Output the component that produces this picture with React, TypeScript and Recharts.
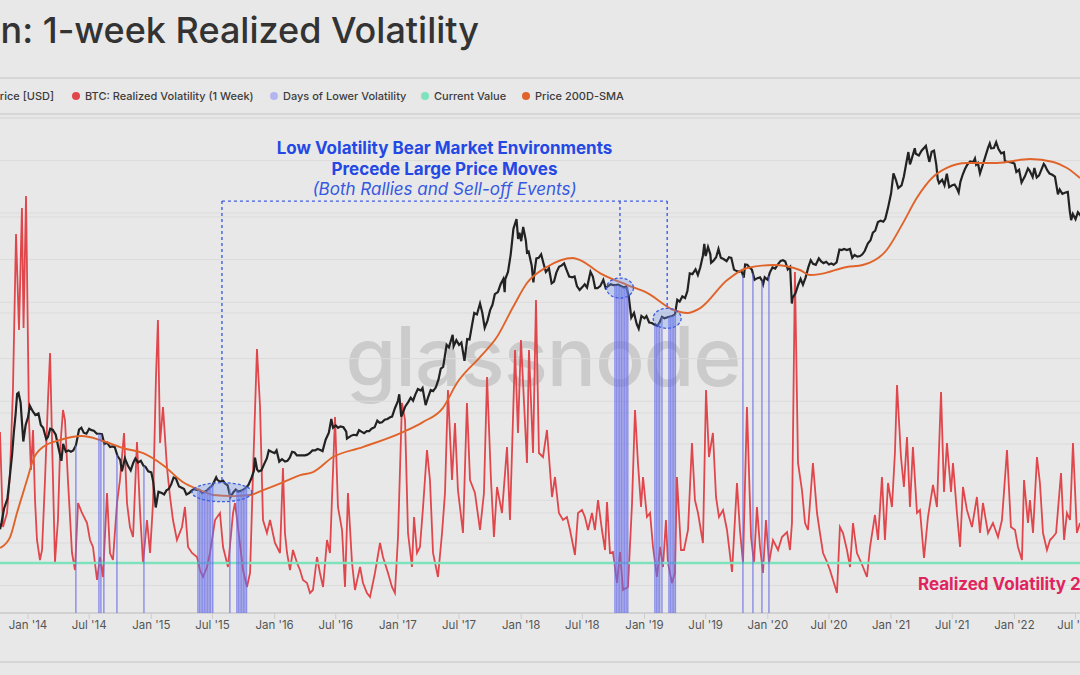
import React from 'react';
import {
  ComposedChart,
  Line,
  Bar,
  XAxis,
  YAxis,
  CartesianGrid,
  ReferenceLine,
  ReferenceDot,
} from 'recharts';

// time axis is in decimal years
const X_DOMAIN: [number, number] = [2013.773, 2022.532];
const PRICE_DOMAIN: [number, number] = [32, 100000];
const VOL_DOMAIN: [number, number] = [0, 247.5];

const TICK_VALUES = [
  2014, 2014.496, 2015, 2015.496, 2016, 2016.496, 2017, 2017.496, 2018, 2018.496,
  2019, 2019.496, 2020, 2020.496, 2021, 2021.496, 2022, 2022.496,
];
const TICK_LABELS = [
  "Jan '14", "Jul '14", "Jan '15", "Jul '15", "Jan '16", "Jul '16", "Jan '17", "Jul '17", "Jan '18", "Jul '18",
  "Jan '19", "Jul '19", "Jan '20", "Jul '20", "Jan '21", "Jul '21", "Jan '22", "Jul '22",
];
const PRICE_GRID = [50, 100, 200, 500, 1000, 2000, 5000, 10000, 20000, 50000];
const VOL_GRID = [50, 100, 150, 200];

// BTC price [USD]
const PRICE: [number, number][] = [
  [2013.773, 125], [2013.786, 140], [2013.806, 175], [2013.833, 205], [2013.852, 290], [2013.871, 420],
  [2013.885, 600], [2013.899, 800], [2013.912, 1130], [2013.923, 1150], [2013.94, 980], [2013.962, 520],
  [2013.981, 680], [2014.0, 770], [2014.015, 930], [2014.038, 850], [2014.06, 800], [2014.085, 820],
  [2014.104, 680], [2014.123, 650], [2014.148, 540], [2014.162, 560], [2014.18, 640], [2014.2, 630],
  [2014.225, 580], [2014.247, 470], [2014.271, 380], [2014.285, 500], [2014.307, 440], [2014.329, 450],
  [2014.348, 440], [2014.367, 450], [2014.389, 490], [2014.414, 630], [2014.433, 650], [2014.452, 600],
  [2014.474, 590], [2014.496, 640], [2014.515, 625], [2014.534, 620], [2014.558, 590], [2014.581, 590],
  [2014.6, 585], [2014.619, 500], [2014.641, 510], [2014.666, 475], [2014.685, 480], [2014.704, 475],
  [2014.726, 410], [2014.748, 385], [2014.762, 320], [2014.786, 395], [2014.811, 350], [2014.833, 325],
  [2014.855, 370], [2014.871, 395], [2014.893, 370], [2014.915, 380], [2014.937, 350], [2014.953, 345],
  [2014.975, 320], [2015.0, 315], [2015.016, 270], [2015.036, 178], [2015.058, 230], [2015.085, 225],
  [2015.104, 220], [2015.123, 235], [2015.142, 240], [2015.162, 260], [2015.181, 290], [2015.2, 285],
  [2015.225, 250], [2015.247, 245], [2015.266, 240], [2015.285, 220], [2015.307, 225], [2015.329, 235],
  [2015.348, 240], [2015.367, 237], [2015.389, 237], [2015.414, 225], [2015.433, 230], [2015.452, 235],
  [2015.474, 245], [2015.496, 255], [2015.526, 290], [2015.534, 280], [2015.558, 270], [2015.581, 275],
  [2015.6, 262], [2015.619, 255], [2015.641, 210], [2015.666, 228], [2015.685, 238], [2015.704, 230],
  [2015.726, 233], [2015.748, 238], [2015.767, 245], [2015.786, 255], [2015.811, 285], [2015.833, 325],
  [2015.841, 400], [2015.858, 330], [2015.871, 320], [2015.893, 325], [2015.915, 360], [2015.937, 395],
  [2015.953, 450], [2015.975, 440], [2016.0, 430], [2016.016, 450], [2016.038, 375], [2016.06, 390],
  [2016.085, 375], [2016.104, 380], [2016.123, 400], [2016.142, 440], [2016.162, 435], [2016.181, 415],
  [2016.2, 415], [2016.225, 415], [2016.247, 415], [2016.266, 420], [2016.285, 430], [2016.307, 450],
  [2016.329, 450], [2016.348, 460], [2016.367, 455], [2016.389, 445], [2016.414, 535], [2016.44, 600],
  [2016.46, 750], [2016.474, 650], [2016.496, 675], [2016.515, 650], [2016.534, 665], [2016.558, 655],
  [2016.581, 610], [2016.587, 545], [2016.619, 570], [2016.641, 580], [2016.666, 575], [2016.685, 625],
  [2016.704, 610], [2016.726, 595], [2016.748, 615], [2016.767, 615], [2016.786, 640], [2016.811, 655],
  [2016.833, 730], [2016.852, 705], [2016.871, 710], [2016.893, 740], [2016.915, 750], [2016.937, 770],
  [2016.953, 780], [2016.975, 890], [2017.0, 1000], [2017.011, 1120], [2017.027, 780], [2017.038, 820],
  [2017.06, 920], [2017.085, 990], [2017.104, 1060], [2017.123, 1010], [2017.142, 1120], [2017.162, 1220],
  [2017.186, 1190], [2017.2, 1240], [2017.225, 940], [2017.247, 1080], [2017.266, 1200], [2017.285, 1180],
  [2017.307, 1250], [2017.329, 1420], [2017.348, 1700], [2017.367, 1750], [2017.395, 2500], [2017.414, 2400],
  [2017.444, 2950], [2017.452, 2450], [2017.474, 2700], [2017.496, 2500], [2017.515, 2600], [2017.54, 1930],
  [2017.562, 2750], [2017.581, 2730], [2017.6, 3400], [2017.619, 4200], [2017.641, 4100], [2017.666, 4900],
  [2017.685, 4200], [2017.704, 3300], [2017.726, 3700], [2017.748, 4400], [2017.767, 4800], [2017.786, 5700],
  [2017.811, 5900], [2017.833, 6700], [2017.855, 7300], [2017.866, 5900], [2017.871, 7300], [2017.893, 8200],
  [2017.915, 10900], [2017.937, 16500], [2017.962, 19300], [2017.975, 14000], [2017.986, 15500], [2018.0, 13500],
  [2018.016, 17000], [2018.038, 13600], [2018.047, 11200], [2018.06, 11400], [2018.085, 9100], [2018.099, 6900],
  [2018.11, 8500], [2018.123, 10200], [2018.142, 10300], [2018.162, 10900], [2018.181, 9400], [2018.2, 8200],
  [2018.225, 8700], [2018.247, 6800], [2018.266, 7000], [2018.285, 8100], [2018.307, 8900], [2018.329, 9100],
  [2018.348, 9400], [2018.367, 8500], [2018.389, 7600], [2018.414, 7500], [2018.433, 7600], [2018.452, 6500],
  [2018.474, 6100], [2018.496, 6400], [2018.515, 6700], [2018.534, 6350], [2018.562, 8200], [2018.581, 7600],
  [2018.6, 6300], [2018.619, 6300], [2018.641, 6500], [2018.666, 7200], [2018.685, 6300], [2018.704, 6500],
  [2018.726, 6700], [2018.748, 6600], [2018.767, 6600], [2018.786, 6650], [2018.811, 6500], [2018.833, 6350],
  [2018.852, 6450], [2018.868, 5700], [2018.871, 5600], [2018.893, 3900], [2018.915, 4200], [2018.937, 3500],
  [2018.953, 3250], [2018.975, 4000], [2019.0, 3850], [2019.016, 4000], [2019.038, 3600], [2019.06, 3570],
  [2019.085, 3450], [2019.104, 3400], [2019.123, 3600], [2019.142, 3950], [2019.162, 3850], [2019.181, 3900],
  [2019.2, 3950], [2019.225, 4000], [2019.247, 4100], [2019.266, 5200], [2019.285, 5050], [2019.307, 5500],
  [2019.329, 5350], [2019.348, 6000], [2019.367, 8000], [2019.389, 7900], [2019.414, 8550], [2019.433, 7800],
  [2019.452, 8800], [2019.474, 10700], [2019.485, 12900], [2019.496, 10600], [2019.515, 12300], [2019.534, 10900],
  [2019.54, 9500], [2019.558, 9800], [2019.581, 10400], [2019.6, 11900], [2019.619, 10300], [2019.641, 10100],
  [2019.666, 9750], [2019.685, 10400], [2019.704, 10300], [2019.726, 8500], [2019.748, 8300], [2019.767, 8200],
  [2019.786, 8350], [2019.805, 7450], [2019.816, 9250], [2019.833, 9200], [2019.852, 8800], [2019.871, 8500],
  [2019.893, 7200], [2019.915, 7400], [2019.937, 7500], [2019.953, 7100], [2019.962, 6700], [2019.975, 7500],
  [2020.0, 7200], [2020.016, 8100], [2020.038, 8800], [2020.06, 8650], [2020.085, 9350], [2020.104, 9800],
  [2020.123, 9900], [2020.142, 9700], [2020.162, 8550], [2020.181, 8900], [2020.195, 4900], [2020.2, 5350],
  [2020.225, 5800], [2020.247, 6650], [2020.266, 7300], [2020.285, 6650], [2020.307, 7500], [2020.329, 8850],
  [2020.348, 9900], [2020.367, 9350], [2020.389, 9200], [2020.414, 10200], [2020.433, 9700], [2020.452, 9450],
  [2020.474, 9650], [2020.496, 9250], [2020.515, 9400], [2020.534, 9200], [2020.558, 9550], [2020.581, 11800],
  [2020.6, 11700], [2020.619, 11900], [2020.641, 11700], [2020.666, 11900], [2020.685, 10300], [2020.704, 10800],
  [2020.726, 10500], [2020.748, 10600], [2020.767, 10900], [2020.786, 11500], [2020.811, 13000], [2020.833, 13700],
  [2020.852, 15500], [2020.871, 16000], [2020.893, 18400], [2020.915, 18800], [2020.937, 18500], [2020.953, 19400],
  [2020.975, 23200], [2021.0, 29400], [2021.019, 40600], [2021.038, 36800], [2021.058, 32000], [2021.085, 33500],
  [2021.104, 38800], [2021.123, 47900], [2021.14, 57500], [2021.153, 47000], [2021.162, 49600], [2021.192, 61200],
  [2021.2, 55900], [2021.225, 54300], [2021.247, 58800], [2021.282, 63500], [2021.31, 49000], [2021.329, 57800],
  [2021.348, 58800], [2021.367, 46500], [2021.378, 37000], [2021.389, 34700], [2021.414, 36700], [2021.433, 33500],
  [2021.452, 40500], [2021.471, 32500], [2021.496, 33500], [2021.515, 33900], [2021.534, 31800], [2021.548, 29800],
  [2021.562, 35400], [2021.581, 39900], [2021.6, 43800], [2021.619, 47000], [2021.641, 49300], [2021.666, 48800],
  [2021.68, 51800], [2021.69, 46800], [2021.704, 48100], [2021.721, 40600], [2021.748, 48100], [2021.786, 61500],
  [2021.8, 66000], [2021.811, 61000], [2021.833, 61300], [2021.852, 67500], [2021.871, 60400], [2021.893, 56300],
  [2021.915, 57200], [2021.923, 49400], [2021.953, 48900], [2021.975, 48600], [2022.0, 47700], [2022.016, 41600],
  [2022.038, 43100], [2022.058, 35000], [2022.085, 38700], [2022.11, 44000], [2022.123, 42500], [2022.148, 38300],
  [2022.162, 44400], [2022.181, 38000], [2022.2, 39300], [2022.238, 47400], [2022.247, 46300], [2022.266, 42800],
  [2022.285, 40500], [2022.307, 39700], [2022.329, 38500], [2022.353, 28900], [2022.367, 31300], [2022.389, 29100],
  [2022.414, 29800], [2022.433, 30100], [2022.449, 22100], [2022.46, 19000], [2022.474, 21000], [2022.496, 19300],
  [2022.515, 21600], [2022.534, 20600], [2022.56, 22600],
];

// Price 200D-SMA
const SMA_200D: [number, number][] = [
  [2013.773, 92], [2013.855, 110], [2013.91, 162], [2013.992, 278], [2014.041, 385], [2014.121, 475],
  [2014.26, 533], [2014.438, 568], [2014.584, 533], [2014.77, 467], [2014.934, 430], [2015.096, 354],
  [2015.258, 268], [2015.395, 236], [2015.503, 218], [2015.663, 214], [2015.801, 218], [2015.907, 236],
  [2016.068, 268], [2016.208, 301], [2016.312, 316], [2016.474, 404], [2016.715, 475], [2017.041, 606],
  [2017.203, 713], [2017.364, 895], [2017.479, 1345], [2017.666, 2053], [2017.803, 2840], [2017.934, 4625],
  [2018.047, 6835], [2018.208, 8870], [2018.419, 10260], [2018.477, 9930], [2018.638, 8040], [2018.86, 6620],
  [2019.025, 5810], [2019.236, 4410], [2019.347, 4200], [2019.452, 4550], [2019.671, 7180], [2019.833, 8730],
  [2020.044, 9160], [2020.26, 8450], [2020.342, 7790], [2020.422, 7900], [2020.641, 8870], [2020.77, 9160],
  [2020.964, 11700], [2021.096, 18100], [2021.208, 27200], [2021.34, 38300], [2021.452, 44400], [2021.614, 48100],
  [2021.858, 48100], [2022.126, 51300], [2022.315, 48900], [2022.427, 44400], [2022.532, 37700],
];

// BTC: Realized Volatility (1 Week), %
const REALIZED_VOL: [number, number][] = [
  [2013.773, 90.5], [2013.797, 43], [2013.83, 50], [2013.854, 70], [2013.878, 111.5], [2013.903, 189.5],
  [2013.927, 141.5], [2013.951, 202.5], [2013.964, 142.5], [2013.984, 208.5], [2014.008, 96.5], [2014.024, 71.5],
  [2014.041, 91.5], [2014.057, 56.5], [2014.073, 36.5], [2014.097, 26.5], [2014.114, 31.5], [2014.138, 66.5],
  [2014.162, 106.5], [2014.179, 130], [2014.195, 86.5], [2014.219, 25.5], [2014.243, 46.5], [2014.26, 81.5],
  [2014.284, 101.5], [2014.3, 96.5], [2014.324, 66.5], [2014.357, 30], [2014.381, 21.5], [2014.406, 55],
  [2014.438, 50], [2014.479, 45], [2014.503, 36.5], [2014.527, 33], [2014.56, 16.5], [2014.584, 28],
  [2014.608, 18], [2014.641, 60], [2014.665, 30], [2014.689, 26.5], [2014.722, 55], [2014.746, 66.5],
  [2014.779, 90], [2014.803, 55], [2014.827, 43], [2014.852, 38], [2014.884, 85.5], [2014.908, 51.5],
  [2014.933, 25], [2014.965, 46.5], [2014.99, 30], [2015.014, 55], [2015.038, 118], [2015.054, 146.5],
  [2015.071, 85], [2015.095, 103], [2015.127, 73], [2015.152, 58], [2015.176, 46.5], [2015.208, 36.5],
  [2015.249, 43], [2015.273, 53], [2015.298, 33], [2015.33, 30], [2015.371, 28], [2015.395, 21.5],
  [2015.419, 18], [2015.452, 23], [2015.476, 30], [2015.517, 46.5], [2015.557, 50], [2015.582, 33],
  [2015.622, 23], [2015.663, 50], [2015.679, 55], [2015.703, 43], [2015.744, 21.5], [2015.776, 13],
  [2015.801, 20], [2015.825, 70], [2015.857, 132], [2015.882, 103], [2015.906, 46.5], [2015.938, 40],
  [2015.963, 46.5], [2016.003, 35], [2016.044, 30], [2016.068, 72.5], [2016.084, 40], [2016.101, 30],
  [2016.125, 21.5], [2016.149, 31.5], [2016.182, 25], [2016.206, 21.5], [2016.23, 16.5], [2016.263, 15],
  [2016.287, 10], [2016.311, 11.5], [2016.344, 28], [2016.368, 20], [2016.393, 13], [2016.425, 36.5],
  [2016.449, 30], [2016.466, 58], [2016.49, 98], [2016.514, 53], [2016.547, 41.5], [2016.571, 13],
  [2016.595, 60], [2016.628, 25], [2016.652, 11.5], [2016.693, 23], [2016.717, 15], [2016.749, 10],
  [2016.774, 8], [2016.814, 20], [2016.855, 35], [2016.879, 28], [2016.92, 20], [2016.952, 13],
  [2016.976, 10], [2017.001, 38], [2017.033, 105], [2017.058, 96.5], [2017.082, 40], [2017.114, 23],
  [2017.131, 48], [2017.155, 30], [2017.179, 33], [2017.204, 53], [2017.236, 81.5], [2017.26, 66.5],
  [2017.285, 30], [2017.325, 18], [2017.358, 40], [2017.382, 60], [2017.406, 111.5], [2017.439, 66.5],
  [2017.463, 95], [2017.487, 61.5], [2017.528, 40], [2017.56, 105], [2017.585, 66.5], [2017.625, 60],
  [2017.666, 41.5], [2017.698, 60], [2017.723, 118], [2017.755, 66.5], [2017.779, 38], [2017.804, 63],
  [2017.844, 50], [2017.885, 83], [2017.909, 46.5], [2017.95, 131.5], [2017.974, 90], [2017.998, 136.5],
  [2018.047, 75], [2018.063, 131.5], [2018.096, 80], [2018.12, 156.5], [2018.144, 80], [2018.177, 78],
  [2018.209, 91.5], [2018.25, 58], [2018.274, 68], [2018.306, 50], [2018.339, 46.5], [2018.371, 48],
  [2018.396, 41.5], [2018.436, 29], [2018.461, 50], [2018.493, 51.5], [2018.517, 48], [2018.542, 41.5],
  [2018.574, 50], [2018.598, 41.5], [2018.623, 56.5], [2018.655, 41.5], [2018.68, 31.5], [2018.696, 55.5],
  [2018.72, 30], [2018.744, 30.5], [2018.777, 15], [2018.801, 30.5], [2018.826, 11.5], [2018.866, 13],
  [2018.899, 55], [2018.923, 101.5], [2018.947, 75], [2018.972, 53], [2018.988, 68], [2019.02, 48],
  [2019.045, 50], [2019.069, 33], [2019.101, 18], [2019.126, 33], [2019.15, 23], [2019.174, 46.5],
  [2019.19, 25], [2019.223, 15], [2019.247, 20], [2019.263, 68], [2019.296, 31.5], [2019.32, 31.5],
  [2019.353, 41.5], [2019.385, 85], [2019.409, 56.5], [2019.434, 50], [2019.474, 35], [2019.499, 111.5],
  [2019.523, 78], [2019.555, 90], [2019.58, 58], [2019.604, 48], [2019.637, 51.5], [2019.669, 41.5],
  [2019.71, 20.5], [2019.75, 65], [2019.774, 41.5], [2019.799, 25], [2019.831, 103], [2019.864, 38],
  [2019.888, 25], [2019.912, 53], [2019.937, 33], [2019.961, 20], [2019.985, 46.5], [2020.01, 25],
  [2020.042, 36.5], [2020.083, 31.5], [2020.115, 38], [2020.156, 40.5], [2020.18, 31.5], [2020.196, 45],
  [2020.22, 170.5], [2020.245, 75], [2020.277, 61.5], [2020.302, 45], [2020.326, 41.5], [2020.35, 61.5],
  [2020.366, 75], [2020.399, 50], [2020.423, 40], [2020.448, 30], [2020.48, 25.5], [2020.504, 21.5],
  [2020.529, 16.5], [2020.561, 10], [2020.585, 43], [2020.61, 40], [2020.642, 31.5], [2020.667, 23],
  [2020.691, 45], [2020.723, 30], [2020.748, 26.5], [2020.772, 23], [2020.804, 18], [2020.829, 33],
  [2020.869, 49], [2020.894, 36.5], [2020.926, 68], [2020.95, 36.5], [2020.975, 65], [2021.007, 53],
  [2021.031, 80], [2021.048, 114], [2021.08, 78], [2021.104, 63], [2021.129, 88], [2021.153, 53],
  [2021.177, 83], [2021.21, 50], [2021.234, 51.5], [2021.267, 27.5], [2021.299, 48], [2021.34, 64],
  [2021.372, 53], [2021.405, 110.5], [2021.429, 60.5], [2021.453, 85], [2021.486, 60.5], [2021.502, 75],
  [2021.534, 50], [2021.559, 33], [2021.583, 63], [2021.615, 51.5], [2021.656, 43], [2021.696, 58],
  [2021.721, 40], [2021.745, 55], [2021.786, 40], [2021.826, 45], [2021.867, 38], [2021.899, 46.5],
  [2021.94, 81.5], [2021.972, 43], [2022.005, 41.5], [2022.029, 33], [2022.061, 26.5], [2022.078, 66.5],
  [2022.11, 45], [2022.126, 56.5], [2022.151, 40], [2022.183, 78], [2022.207, 65], [2022.232, 40],
  [2022.264, 31.5], [2022.289, 36.5], [2022.313, 38], [2022.338, 40], [2022.378, 70], [2022.403, 36.5],
  [2022.426, 50], [2022.451, 46.5], [2022.475, 85], [2022.507, 40], [2022.532, 45],
];

// Days of Lower Volatility (bar reaches the price that day)
const LOW_VOL_DAYS: [number, number][] = [
  [2014.389, 490], [2014.576, 590], [2014.592, 588], [2014.616, 510], [2014.722, 420], [2014.941, 350],
  [2015.379, 237], [2015.392, 236], [2015.405, 230], [2015.418, 226], [2015.431, 229], [2015.444, 233],
  [2015.457, 238], [2015.47, 245], [2015.483, 252], [2015.499, 256], [2015.638, 240],
  [2015.695, 236], [2015.708, 231], [2015.721, 232], [2015.734, 236], [2015.747, 238], [2015.76, 243],
  [2015.773, 250],
  [2018.761, 6600], [2018.774, 6580], [2018.787, 6620], [2018.8, 6500], [2018.813, 6480], [2018.826, 6400],
  [2018.839, 6350], [2018.852, 6420], [2018.865, 6380],
  [2019.085, 3450], [2019.098, 3420], [2019.111, 3500], [2019.124, 3600], [2019.142, 3900],
  [2019.199, 3950], [2019.212, 3980], [2019.225, 4000], [2019.238, 4050], [2019.251, 4150],
  [2019.799, 7800], [2019.88, 8000], [2019.953, 7100], [2020.01, 7700],
];

const CURRENT_VALUE = 25;

// highlighted low-volatility regimes: [time, price] of each ellipse centre and of its top
const HIGHLIGHT_CENTERS: [number, number][] = [[2015.573, 228], [2018.801, 6300], [2019.184, 3850]];
const HIGHLIGHT_TOPS: [number, number][] = [[2015.573, 267], [2018.801, 7420], [2019.184, 4530]];
const BRACKET_PRICE = 25900;

type Row = { t: number; price?: number; vol?: number; sma?: number };

function buildRows(): Row[] {
  const byT = new Map<number, Row>();
  const put = (list: [number, number][], key: 'price' | 'vol' | 'sma') => {
    list.forEach(([t, v]) => {
      const r = byT.get(t) ?? { t };
      r[key] = v;
      byT.set(t, r);
    });
  };
  put(PRICE, 'price');
  put(REALIZED_VOL, 'vol');
  put(SMA_200D, 'sma');
  return [...byT.values()].sort((a, b) => a.t - b.t);
}

const rows = buildRows();
const lowVolRows = LOW_VOL_DAYS.map(([t, p]) => ({ t, p }));

const FONT = 'Inter, "Noto Sans", sans-serif';
const ELLIPSE_SIZES = [[30, 9.5], [13.5, 10], [14, 10]];

const legendItem = (color: string, label: string) => (
  <span style={{ display: 'flex', alignItems: 'center', whiteSpace: 'nowrap' }}>
    <span style={{ width: 8, height: 8, borderRadius: 4, background: color, marginRight: 5 }} />
    {label}
  </span>
);

export default function App() {
  const legendText: React.CSSProperties = {
    position: 'absolute',
    top: 89,
    fontSize: 11,
    fontWeight: 500,
    color: '#3c3c3c',
    lineHeight: '14px',
  };
  const dashed = { stroke: '#3e5fe0', strokeWidth: 1.4, strokeDasharray: '3 3' };

  return (
    <div
      style={{
        position: 'fixed',
        left: 0,
        top: 0,
        width: 1080,
        height: 675,
        overflow: 'hidden',
        background: '#e8e8e8',
        fontFamily: FONT,
      }}
    >
      <div
        style={{
          position: 'absolute',
          right: 601,
          top: 12,
          fontSize: 36,
          lineHeight: '36px',
          fontWeight: 500,
          color: '#333',
          whiteSpace: 'nowrap',
        }}
      >
        Bitcoin: 1-week Realized Volatility
      </div>
      <div style={{ position: 'absolute', left: 0, top: 77, width: 1080, height: 2, background: '#d6d6d6' }} />
      <div style={{ position: 'absolute', left: 0, top: 113, width: 1080, height: 2, background: '#d6d6d6' }} />
      <div style={{ position: 'absolute', left: 0, top: 661, width: 1080, height: 2, background: '#d6d6d6' }} />

      <div style={{ ...legendText, right: 1080 - 54 }}>{legendItem('#222', 'BTC: Price [USD]')}</div>
      <div style={{ ...legendText, left: 72 }}>{legendItem('#e0474c', 'BTC: Realized Volatility (1 Week)')}</div>
      <div style={{ ...legendText, left: 270 }}>{legendItem('#b3b6ef', 'Days of Lower Volatility')}</div>
      <div style={{ ...legendText, left: 421 }}>{legendItem('#7ee2bd', 'Current Value')}</div>
      <div style={{ ...legendText, left: 522 }}>{legendItem('#e0642a', 'Price 200D-SMA')}</div>

      <div
        style={{
          position: 'absolute',
          left: 3,
          width: 1080,
          top: 316,
          textAlign: 'center',
          fontSize: 82,
          lineHeight: '82px',
          fontWeight: 500,
          letterSpacing: -1,
          color: 'rgba(90, 90, 90, 0.2)',
        }}
      >
        glassnode
      </div>

      <div style={{ position: 'absolute', left: 0, top: 0 }}>
        <ComposedChart width={1080} height={675} data={rows} margin={{ top: 118, right: 0, bottom: 32, left: 0 }}>
          <CartesianGrid yAxisId="price" vertical={false} stroke="#dbdbdb" />
          <CartesianGrid yAxisId="vol" vertical={false} stroke="#dbdbdb" />
          <XAxis
            dataKey="t"
            type="number"
            domain={X_DOMAIN}
            allowDataOverflow
            ticks={TICK_VALUES}
            interval={0}
            tickFormatter={(v: number) => TICK_LABELS[TICK_VALUES.indexOf(v)]}
            tick={{ fill: '#555', fontSize: 11.5, fontFamily: FONT }}
            axisLine={{ stroke: '#cdcdcd', strokeWidth: 1.5 }}
            tickLine={{ stroke: '#cdcdcd' }}
            height={30}
          />
          <YAxis yAxisId="price" scale="log" domain={PRICE_DOMAIN} ticks={PRICE_GRID} allowDataOverflow hide />
          <YAxis yAxisId="vol" orientation="right" domain={VOL_DOMAIN} ticks={VOL_GRID} allowDataOverflow hide />
          <Line
            yAxisId="vol"
            dataKey="vol"
            type="linear"
            stroke="#e0474c"
            strokeWidth={1.8}
            dot={false}
            connectNulls
            isAnimationActive={false}
          />
          <Line
            yAxisId="price"
            dataKey="price"
            type="linear"
            stroke="#222"
            strokeWidth={2.2}
            dot={false}
            connectNulls
            isAnimationActive={false}
          />
          <Line
            yAxisId="price"
            dataKey="sma"
            type="monotone"
            stroke="#e0642a"
            strokeWidth={1.9}
            dot={false}
            connectNulls
            isAnimationActive={false}
          />
          <ReferenceLine yAxisId="vol" y={CURRENT_VALUE} stroke="#7ee2bd" strokeWidth={2.5} />
        </ComposedChart>
      </div>

      <div style={{ position: 'absolute', left: 0, top: 0 }}>
        <ComposedChart
          width={1080}
          height={675}
          data={lowVolRows}
          margin={{ top: 118, right: 0, bottom: 32, left: 0 }}
          barCategoryGap={0}
        >
          <XAxis
            dataKey="t"
            type="number"
            domain={X_DOMAIN}
            allowDataOverflow
            tick={false}
            axisLine={false}
            tickLine={false}
            height={30}
          />
          <YAxis yAxisId="price" scale="log" domain={PRICE_DOMAIN} allowDataOverflow hide />
          <Bar
            yAxisId="price"
            dataKey="p"
            fill="#666ce6"
            fillOpacity={0.72}
            barSize={2}
            isAnimationActive={false}
          />
          <ReferenceLine
            yAxisId="price"
            segment={[
              { x: HIGHLIGHT_TOPS[0][0], y: BRACKET_PRICE },
              { x: HIGHLIGHT_TOPS[2][0], y: BRACKET_PRICE },
            ]}
            {...dashed}
          />
          {HIGHLIGHT_TOPS.map(([t, p]) => (
            <ReferenceLine
              key={'v' + t}
              yAxisId="price"
              segment={[
                { x: t, y: BRACKET_PRICE },
                { x: t, y: p },
              ]}
              {...dashed}
            />
          ))}
          {HIGHLIGHT_CENTERS.map(([t, p], i) => (
            <ReferenceDot
              key={'e' + t}
              yAxisId="price"
              x={t}
              y={p}
              shape={(props: any) => (
                <ellipse
                  cx={props.cx}
                  cy={props.cy}
                  rx={ELLIPSE_SIZES[i][0]}
                  ry={ELLIPSE_SIZES[i][1]}
                  fill="rgba(110, 145, 235, 0.32)"
                  stroke="#3e5fe0"
                  strokeWidth={1.3}
                  strokeDasharray="3 2"
                />
              )}
            />
          ))}
        </ComposedChart>
      </div>

      <div
        style={{
          position: 'absolute',
          left: 0,
          width: 889,
          top: 138,
          textAlign: 'center',
          color: '#2448e3',
          fontSize: 17,
          lineHeight: '20.5px',
          fontWeight: 700,
        }}
      >
        <div>Low Volatility Bear Market Environments</div>
        <div>Precede Large Price Moves</div>
        <div style={{ fontStyle: 'italic', fontWeight: 400, color: '#3658e2' }}>
          (Both Rallies and Sell-off Events)
        </div>
      </div>

      <div
        style={{
          position: 'absolute',
          left: 918,
          top: 576,
          fontSize: 17,
          lineHeight: '17px',
          fontWeight: 700,
          color: '#e0245e',
          whiteSpace: 'nowrap',
        }}
      >
        Realized Volatility 25%
      </div>
    </div>
  );
}
